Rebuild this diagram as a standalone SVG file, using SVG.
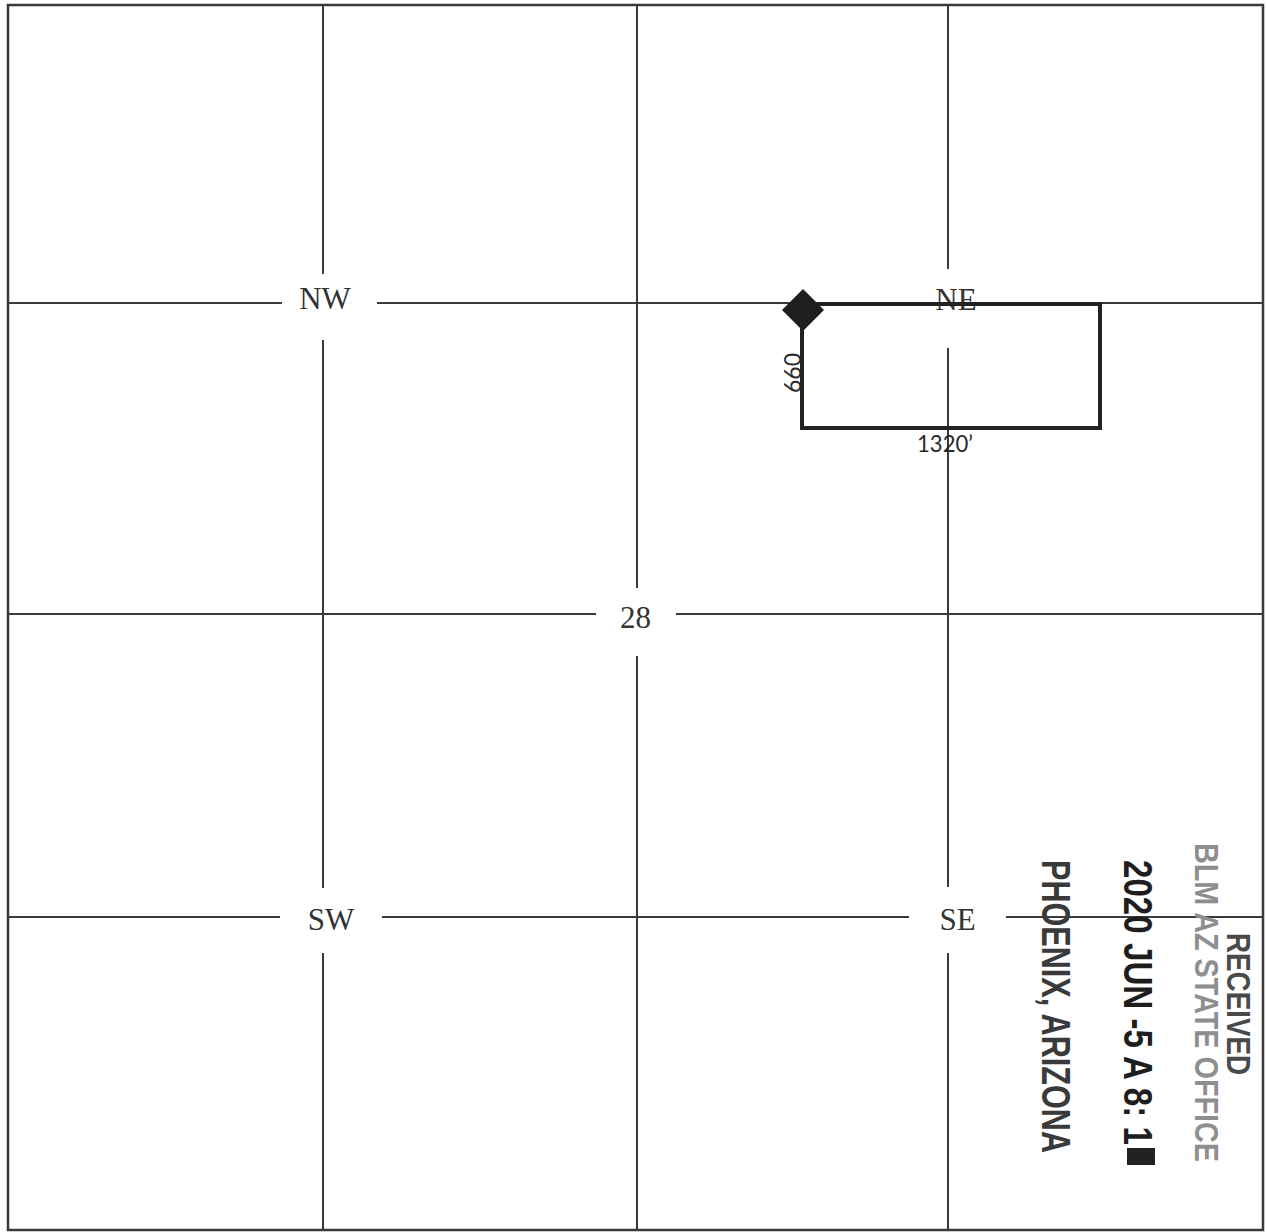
<svg xmlns="http://www.w3.org/2000/svg" width="1267" height="1232" viewBox="0 0 1267 1232">
<style>
.g{stroke:#3a3a3a;stroke-width:2;fill:none}
.lbl{font-family:"Liberation Serif","Times New Roman",serif;font-size:31px;fill:#333;text-anchor:middle}
.dim{font-family:Lato,"Liberation Sans",sans-serif;font-size:24px;fill:#2a2a2a}
.st{font-family:"Liberation Sans Narrow","Liberation Sans",Arial,sans-serif;font-weight:bold}
</style>
<rect x="0" y="0" width="1267" height="1232" fill="#ffffff"/>
<g id="border">
<rect x="8" y="5" width="1255" height="1225" fill="none" stroke="#3a3a3a" stroke-width="2.5"/>
</g>
<g id="grid">
<path class="g" d="M323 5V274M323 340V888M323 953V1230"/>
<path class="g" d="M637 5V588M637 656V1230"/>
<path class="g" d="M948 5V269M948 348V887M948 953V1230"/>
<path class="g" d="M8 303H282M377 303H1263"/>
<path class="g" d="M8 614H596M676 614H1263"/>
<path class="g" d="M8 917H280M382 917H909M1006 917H1263"/>
</g>
<g id="labels">
<text class="lbl" x="325" y="309">NW</text>
<text class="lbl" x="956" y="310">NE</text>
<text class="lbl" x="635.5" y="628">28</text>
<text class="lbl" x="331" y="930">SW</text>
<text class="lbl" x="957.5" y="930">SE</text>
</g>
<g id="parcel">
<rect x="802" y="304" width="298" height="124" fill="none" stroke="#222" stroke-width="4"/>
<polygon points="803,289 824,310 803,331 782,310" fill="#1e1e1e"/>
<text class="dim" transform="translate(801,393) rotate(-90)" textLength="40" lengthAdjust="spacingAndGlyphs">660</text>
<text class="dim" x="917" y="452" textLength="56" lengthAdjust="spacingAndGlyphs">1320’</text>
</g>
<g id="stamp">
<text class="st" transform="translate(1227,933) rotate(90)" font-size="34" fill="#4a4a4a" textLength="142" lengthAdjust="spacingAndGlyphs">RECEIVED</text>
<text class="st" transform="translate(1195,843) rotate(90)" font-size="34" fill="#8e8e8e" textLength="319" lengthAdjust="spacingAndGlyphs">BLM AZ STATE OFFICE</text>
<text class="st" transform="translate(1124,860) rotate(90)" font-size="41" fill="#1e1e1e" textLength="285" lengthAdjust="spacingAndGlyphs">2020 JUN -5 A 8: 1</text>
<rect x="1127" y="1148" width="28" height="17" fill="#222"/>
<text class="st" transform="translate(1042,860) rotate(90)" font-size="41" fill="#3a3a3a" textLength="293" lengthAdjust="spacingAndGlyphs">PHOENIX, ARIZONA</text>
</g>
</svg>
